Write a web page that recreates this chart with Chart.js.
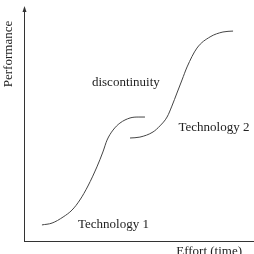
<!DOCTYPE html>
<html>
<head>
<meta charset="utf-8">
<script src="https://cdn.jsdelivr.net/npm/chart.js@4/dist/chart.umd.min.js"></script>
<style>
  html, body { margin: 0; padding: 0; background: #fff; }
  #wrap { width: 254px; height: 254px; }
</style>
</head>
<body>
<div id="wrap"><canvas id="sCurve"></canvas></div>
<script>
// S-curve of technology 1 (effort, performance)
const tech1X = [7.8, 12.2, 17.0, 20.9, 24.3, 27.8, 31.7, 34.3, 36.1, 38.7, 41.7, 46.1, 49.6, 52.6];
const tech1Y = [6.9, 7.7, 10.3, 13.3, 17.6, 23.6, 31.8, 38.2, 43.3, 47.6, 50.6, 52.8, 53.2, 53.2];
// S-curve of technology 2
const tech2X = [46.1, 50.4, 56.1, 59.1, 62.2, 64.3, 66.5, 68.7, 70.9, 75.2, 80.9, 86.5, 90.9];
const tech2Y = [44.2, 44.6, 46.8, 49.4, 53.2, 57.9, 63.5, 69.1, 74.7, 82.8, 87.6, 89.7, 90.1];

// text notes placed in data space
const noteText = ['discontinuity', 'Technology 2', 'Technology 1'];
const noteX = [44.3, 82.6, 38.9];
const noteY = [67.8, 48.5, 6.9];

const xTitle = 'Effort (time)';
const yTitle = 'Performance';

const toPoints = (xs, ys) => xs.map((x, i) => ({ x: x, y: ys[i] }));

const serif = '"Liberation Serif", "Times New Roman", serif';
const ink = '#333';

const notesPlugin = {
    id: 'notes',
    afterDraw(chart) {
        const { ctx, chartArea, scales } = chart;
        ctx.save();
        ctx.fillStyle = '#222';
        ctx.font = '13px ' + serif;
        ctx.textAlign = 'center';
        ctx.textBaseline = 'middle';
        noteText.forEach((t, i) => {
            ctx.fillText(t, scales.x.getPixelForValue(noteX[i]), scales.y.getPixelForValue(noteY[i]));
        });

        // x axis title
        ctx.textBaseline = 'top';
        ctx.fillText(xTitle, scales.x.getPixelForValue(80.5), chartArea.bottom + 4);

        // y axis title, rotated
        ctx.translate(chartArea.left - 15, chartArea.top + 46);
        ctx.rotate(-Math.PI / 2);
        ctx.textBaseline = 'middle';
        ctx.fillText(yTitle, 0, 0);
        ctx.restore();

        // arrow head on the y axis
        ctx.save();
        ctx.fillStyle = ink;
        const ax = chartArea.left + 0.5;
        const ay = chartArea.top;
        ctx.beginPath();
        ctx.moveTo(ax, ay - 2);
        ctx.lineTo(ax - 2, ay + 4);
        ctx.lineTo(ax + 2, ay + 4);
        ctx.closePath();
        ctx.fill();
        ctx.restore();
    }
};

new Chart(document.getElementById('sCurve'), {
    type: 'scatter',
    data: {
        datasets: [
            { label: 'Technology 1', data: toPoints(tech1X, tech1Y) },
            { label: 'Technology 2', data: toPoints(tech2X, tech2Y) },
        ],
    },
    options: {
        responsive: true,
        maintainAspectRatio: false,
        animation: false,
        showLine: true,
        layout: { autoPadding: false, padding: { left: 24, top: 8, right: 0, bottom: 13 } },
        elements: {
            point: { radius: 0, hoverRadius: 0 },
            line: {
                borderColor: '#444',
                borderWidth: 1,
                tension: 0.4,
                cubicInterpolationMode: 'monotone',
                fill: false,
            },
        },
        plugins: {
            legend: { display: false },
            tooltip: { enabled: false },
        },
        scales: {
            x: {
                type: 'linear',
                min: 0,
                max: 100,
                grid: { display: false, drawTicks: false, tickLength: 0 },
                ticks: { display: false, padding: 0 },
                border: { color: ink, width: 1 },
            },
            y: {
                type: 'linear',
                min: 0,
                max: 100,
                grid: { display: false, drawTicks: false, tickLength: 0 },
                ticks: { display: false, padding: 0 },
                border: { color: ink, width: 1 },
            },
        },
    },
    plugins: [notesPlugin],
});
</script>
</body>
</html>
